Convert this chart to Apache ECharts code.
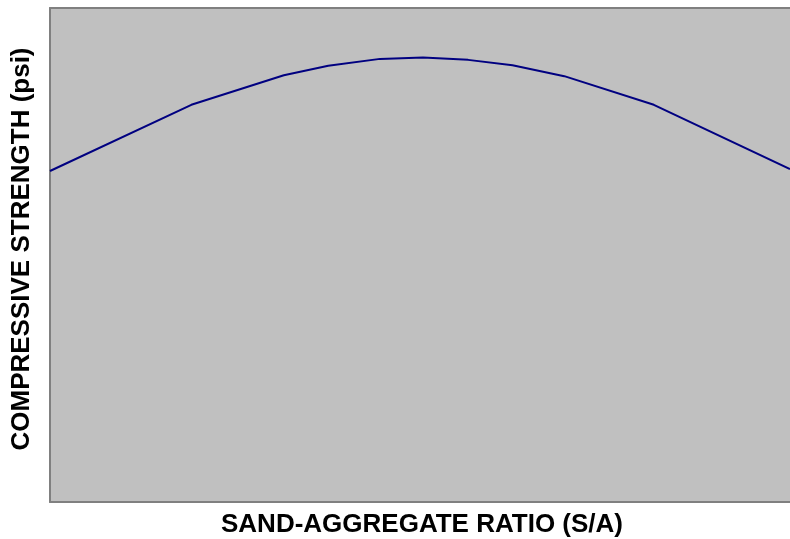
<!DOCTYPE html>
<html>
<head>
<meta charset="utf-8">
<script src="https://cdn.jsdelivr.net/npm/echarts@6/dist/echarts.min.js"></script>
<style>html,body{margin:0;padding:0;background:#fff;}#c{width:790px;height:539px;}</style>
</head>
<body>
<div id="c"></div>
<script>
// S/A ratio positions (relative scale, 0-100) and relative compressive strength
var ratio    = [0, 19.1, 31.6, 37.6, 44.6, 50.4, 56.5, 62.5, 69.5, 81.6, 100];
var strength = [67.0, 80.4, 86.4, 88.3, 89.7, 90.0, 89.5, 88.4, 86.2, 80.4, 67.4];
var xTitle = 'SAND-AGGREGATE RATIO (S/A)';
var yTitle = 'COMPRESSIVE STRENGTH (psi)';

var chart = echarts.init(document.getElementById('c'));
var pts = ratio.map(function(x, i){ return [x, strength[i]]; });
var frame = {show: true, onZero: false, lineStyle: {color: '#808080', width: 2}};
var hidden = {axisTick: {show: false}, axisLabel: {show: false}, splitLine: {show: false}};
chart.setOption({
  animation: false,
  backgroundColor: '#ffffff',
  grid: {left: 50, top: 8, width: 744, height: 494, show: true,
         backgroundColor: '#c0c0c0', borderWidth: 0},
  xAxis: [
    Object.assign({type: 'value', min: 0, max: 100, position: 'bottom', axisLine: frame}, hidden),
    Object.assign({type: 'value', min: 0, max: 100, position: 'top', axisLine: frame}, hidden)
  ],
  yAxis: Object.assign({type: 'value', min: 0, max: 100, position: 'left', axisLine: frame}, hidden),
  graphic: [
    {type: 'text', x: 422, y: 525, style: {text: xTitle, font: 'bold 26px "Liberation Sans", Arial, sans-serif',
      fill: '#000', align: 'center', verticalAlign: 'middle'}},
    {type: 'text', x: 22, y: 249, rotation: Math.PI / 2, style: {text: yTitle, font: 'bold 26px "Liberation Sans", Arial, sans-serif',
      fill: '#000', align: 'center', verticalAlign: 'middle'}}
  ],
  series: [{type: 'line', data: pts, showSymbol: false, symbol: 'none',
            lineStyle: {color: '#000080', width: 2}}]
});
</script>
</body>
</html>
